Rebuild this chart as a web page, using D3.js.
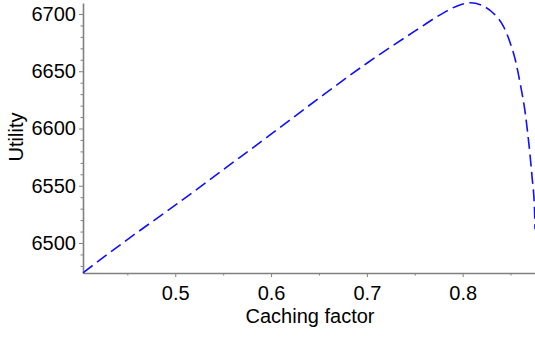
<!DOCTYPE html>
<html>
<head>
<meta charset="utf-8">
<script src="https://cdn.jsdelivr.net/npm/d3@7"></script>
<style>
  body { margin: 0; background: #fff; }
  svg { display: block; font-family: "Liberation Sans", Arial, sans-serif; }
  .axis path, .axis line { stroke: #808080; }
  .axis text { fill: #000; font-size: 20px; }
</style>
</head>
<body>
<svg id="chart" width="535" height="337"></svg>
<script>
// values
const caching = [0.4037, 0.45, 0.5, 0.55, 0.6, 0.65, 0.7, 0.75, 0.78, 0.795, 0.808, 0.82, 0.832, 0.8427, 0.8497, 0.8549, 0.8601, 0.8654, 0.8688, 0.8724, 0.875, 0.8755];
const utility = [6474, 6503, 6533, 6564, 6595, 6626.5, 6657, 6685, 6701, 6707.3, 6709.8, 6707.5, 6700.7, 6689, 6674.5, 6660, 6639, 6613, 6589, 6558, 6529, 6512];

const xTicks = [0.5, 0.6, 0.7, 0.8];
const xMinor = [0.45, 0.55, 0.65, 0.75, 0.85];
const yTicks = [6500, 6550, 6600, 6650, 6700];
const xDomain = [0.4037, 0.8755];
const yDomain = [6473.8, 6709.6];

const svg = d3.select("#chart");
const width = 535, height = 337;
const margin = {"left": 83, "right": 0, "top": 3, "bottom": 64};

const x = d3.scaleLinear().domain(xDomain).range([margin.left, width - margin.right]);
const y = d3.scaleLinear().domain(yDomain).range([height - margin.bottom, margin.top]);

const yMinor = d3.range(6480, 6710, 10).filter(d => !yTicks.includes(d));

// minor ticks first so the main axes draw over them
svg.append("g")
  .attr("class", "axis")
  .attr("transform", `translate(0,${height - margin.bottom})`)
  .call(d3.axisBottom(x).tickValues(xMinor).tickSize(2.5).tickFormat(""))
  .call(g => g.select(".domain").remove());

svg.append("g")
  .attr("class", "axis")
  .attr("transform", `translate(${margin.left},0)`)
  .call(d3.axisLeft(y).tickValues(yMinor).tickSize(2.5).tickFormat(""))
  .call(g => g.select(".domain").remove());

svg.append("g")
  .attr("class", "axis")
  .attr("transform", `translate(0,${height - margin.bottom})`)
  .call(d3.axisBottom(x).tickValues(xTicks).tickSize(4).tickSizeOuter(0).tickFormat(d3.format(".1f")))
  .call(g => g.select(".domain").attr("stroke-width", 1.6))
  .call(g => g.selectAll(".tick text").attr("y", 27).attr("dy", 0));

svg.append("g")
  .attr("class", "axis")
  .attr("transform", `translate(${margin.left},0)`)
  .call(d3.axisLeft(y).tickValues(yTicks).tickSize(4).tickSizeOuter(0).tickFormat(d3.format("d")))
  .call(g => g.select(".domain").attr("stroke-width", 1.6))
  .call(g => g.selectAll(".tick text").attr("x", -7));

const line = d3.line()
  .x((d, i) => x(caching[i]))
  .y(d => y(d))
  .curve(d3.curveMonotoneX);

svg.append("path")
  .datum(utility)
  .attr("fill", "none")
  .attr("stroke", "#1010ff")
  .attr("stroke-width", 1.6)
  .attr("stroke-dasharray", "12,5.5")
  .attr("d", line);

svg.append("text")
  .attr("x", 310)
  .attr("y", 323)
  .attr("text-anchor", "middle")
  .attr("font-size", 20)
  .text("Caching factor");

svg.append("text")
  .attr("transform", "translate(23,137) rotate(-90)")
  .attr("text-anchor", "middle")
  .attr("font-size", 20)
  .text("Utility");
</script>
</body>
</html>
